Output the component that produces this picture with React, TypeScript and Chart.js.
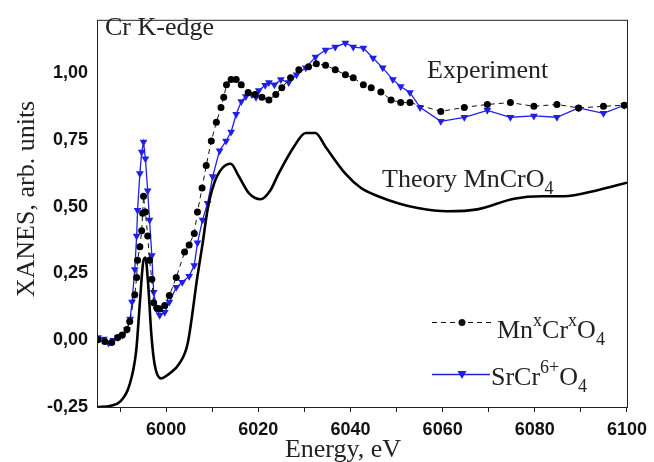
import React, { useEffect, useRef } from "react";
import { Chart, registerables } from "chart.js";

Chart.register(...registerables);

// ---- data ----
const theoryEnergy = [5985, 5988, 5990, 5992, 5993.5, 5994.3, 5995, 5995.5, 5996.1, 5996.8, 5997.5, 5998.9, 6000.7, 6002.9, 6004.7, 6006.8, 6007.9, 6009.0, 6010.4, 6012.2, 6014, 6015.8, 6018, 6020.5, 6022.6, 6024.4, 6027.7, 6030.3, 6032.4, 6034.6, 6038.9, 6042.3, 6046, 6050.3, 6054.6, 6061, 6067.5, 6075.5, 6081.6, 6086.3, 6093.4, 6100];
const theoryValue = [-0.25, -0.245, -0.23, -0.17, -0.04, 0.14, 0.29, 0.31, 0.21, 0.02, -0.09, -0.143, -0.125, -0.087, -0.01, 0.24, 0.36, 0.49, 0.587, 0.645, 0.661, 0.613, 0.55, 0.528, 0.561, 0.624, 0.724, 0.776, 0.776, 0.724, 0.624, 0.57, 0.539, 0.513, 0.495, 0.483, 0.49, 0.53, 0.539, 0.539, 0.561, 0.59];

const mnEnergy = [5985.2, 5986.7, 5988.2, 5989.5, 5990.5, 5991.5, 5992.1, 5993.2, 5993.6, 5993.8, 5994.3, 5994.7, 5994.9, 5995.1, 5995.5, 5996.0, 5996.4, 5996.9, 5997.3, 5998.0, 5998.6, 5999.7, 6000.7, 6002.2, 6004.0, 6005.0, 6006.1, 6006.8, 6007.8, 6008.7, 6009.8, 6010.9, 6011.9, 6012.5, 6013.1, 6014.1, 6015.2, 6016.3, 6017.8, 6019.3, 6020.8, 6022.3, 6023.8, 6025.1, 6027.0, 6028.8, 6030.9, 6032.6, 6034.6, 6036.7, 6038.9, 6040.6, 6042.8, 6044.5, 6046.6, 6048.8, 6050.9, 6052.9, 6059.6, 6064.7, 6069.7, 6074.7, 6079.8, 6084.8, 6089.5, 6094.9, 6099.4];
const mnValue = [0.002, -0.005, -0.008, 0.01, 0.02, 0.04, 0.07, 0.17, 0.235, 0.3, 0.35, 0.41, 0.476, 0.539, 0.48, 0.39, 0.3, 0.228, 0.14, 0.12, 0.117, 0.13, 0.168, 0.235, 0.33, 0.357, 0.4, 0.48, 0.57, 0.654, 0.746, 0.816, 0.872, 0.91, 0.957, 0.976, 0.976, 0.957, 0.928, 0.92, 0.91, 0.9, 0.92, 0.946, 0.983, 1.013, 1.024, 1.035, 1.03, 1.013, 0.994, 0.983, 0.957, 0.946, 0.93, 0.9, 0.89, 0.89, 0.857, 0.872, 0.883, 0.89, 0.876, 0.883, 0.87, 0.876, 0.88];

const srEnergy = [5985.2, 5986.5, 5987.5, 5988.5, 5989.5, 5990.5, 5991.5, 5992.2, 5992.6, 5993.2, 5993.6, 5993.8, 5994.3, 5994.7, 5995.1, 5995.5, 5996.0, 5996.4, 5996.9, 5997.3, 5997.9, 5998.6, 5999.7, 6000.7, 6002.2, 6003.5, 6005.0, 6006.1, 6006.8, 6007.9, 6009.0, 6010.1, 6011.6, 6013.0, 6014.1, 6015.2, 6016.3, 6017.3, 6018.6, 6019.5, 6020.1, 6021.5, 6022.3, 6023.5, 6024.9, 6026.6, 6028.3, 6030.3, 6032.4, 6034.6, 6036.7, 6038.9, 6040.6, 6042.8, 6044.9, 6047.0, 6049.2, 6050.9, 6052.9, 6055.1, 6059.6, 6064.7, 6069.7, 6074.7, 6079.8, 6084.8, 6089.5, 6094.9, 6099.4];
const srValue = [0.01, 0.005, -0.01, 0.0, 0.01, 0.02, 0.04, 0.08, 0.143, 0.265, 0.39, 0.487, 0.624, 0.705, 0.742, 0.68, 0.56, 0.45, 0.317, 0.18, 0.117, 0.094, 0.105, 0.143, 0.198, 0.217, 0.24, 0.28, 0.365, 0.45, 0.513, 0.613, 0.71, 0.746, 0.78, 0.846, 0.894, 0.913, 0.92, 0.91, 0.935, 0.955, 0.965, 0.957, 0.976, 0.965, 0.994, 1.02, 1.061, 1.087, 1.098, 1.113, 1.098, 1.094, 1.057, 1.02, 0.976, 0.95, 0.928, 0.872, 0.82, 0.835, 0.861, 0.835, 0.84, 0.835, 0.87, 0.85, 0.88];

const xTickValues = [5990, 6000, 6010, 6020, 6030, 6040, 6050, 6060, 6070, 6080, 6090, 6100];
const xLabelValues = [6000, 6020, 6040, 6060, 6080, 6100];
const yTickValues = [-0.25, 0, 0.25, 0.5, 0.75, 1.0];

const xTitle = "Energy, eV";
const yTitle = "XANES, arb. units";
const edgeLabel = "Cr K-edge";
const experimentLabel = "Experiment";
const theoryLabel = [{ t: "Theory MnCrO", k: "n" }, { t: "4", k: "sub" }];
const mnLegend = [{ t: "Mn", k: "n" }, { t: "x", k: "sup" }, { t: "Cr", k: "n" }, { t: "x", k: "sup" }, { t: "O", k: "n" }, { t: "4", k: "sub" }];
const srLegend = [{ t: "SrCr", k: "n" }, { t: "6+", k: "sup" }, { t: "O", k: "n" }, { t: "4", k: "sub" }];

const BLUE = "#1f1fe6";
const SERIF = "'Liberation Serif', 'Times New Roman', serif";

function zip(xs: number[], ys: number[]) {
  return xs.map((x, i) => ({ x, y: ys[i] }));
}

function drawRich(ctx: CanvasRenderingContext2D, x: number, y: number, parts: { t: string; k: string }[]) {
  let cx = x;
  for (const p of parts) {
    if (p.k === "n") {
      ctx.font = `26px ${SERIF}`;
      ctx.fillText(p.t, cx, y);
    } else {
      ctx.font = `18px ${SERIF}`;
      ctx.fillText(p.t, cx, p.k === "sup" ? y - 12 : y + 7);
    }
    cx += ctx.measureText(p.t).width;
  }
}

const decorPlugin = {
  id: "decor",
  afterDraw(chart: any) {
    const { ctx, chartArea } = chart;
    ctx.save();
    ctx.strokeStyle = "#222";
    ctx.lineWidth = 1;
    ctx.strokeRect(chartArea.left + 0.5, chartArea.top + 0.5, chartArea.right - chartArea.left, chartArea.bottom - chartArea.top);

    ctx.fillStyle = "#222";
    ctx.textAlign = "left";
    ctx.textBaseline = "alphabetic";
    ctx.font = `26px ${SERIF}`;
    ctx.fillText(edgeLabel, 105, 35);
    ctx.fillText(experimentLabel, 427, 78);
    drawRich(ctx, 382, 187, theoryLabel);

    // axis titles
    ctx.font = `26px ${SERIF}`;
    ctx.textAlign = "center";
    ctx.fillText(xTitle, 343, 457);
    ctx.save();
    ctx.translate(34, 199);
    ctx.rotate(-Math.PI / 2);
    ctx.fillText(yTitle, 0, 0);
    ctx.restore();

    // legend
    ctx.textAlign = "left";
    ctx.strokeStyle = "#111";
    ctx.lineWidth = 1;
    ctx.setLineDash([5, 4]);
    ctx.beginPath();
    ctx.moveTo(432, 322.5);
    ctx.lineTo(495, 322.5);
    ctx.stroke();
    ctx.setLineDash([]);
    ctx.fillStyle = "#111";
    ctx.beginPath();
    ctx.arc(462, 322.5, 3.5, 0, Math.PI * 2);
    ctx.fill();
    ctx.fillStyle = "#222";
    drawRich(ctx, 497, 338, mnLegend);

    ctx.strokeStyle = BLUE;
    ctx.lineWidth = 1.3;
    ctx.beginPath();
    ctx.moveTo(432, 374.5);
    ctx.lineTo(490, 374.5);
    ctx.stroke();
    ctx.fillStyle = BLUE;
    ctx.beginPath();
    ctx.moveTo(457.5, 371);
    ctx.lineTo(466.5, 371);
    ctx.lineTo(462, 379);
    ctx.closePath();
    ctx.fill();
    ctx.fillStyle = "#222";
    drawRich(ctx, 491, 385, srLegend);
    ctx.restore();
  },
};

export default function App() {
  const ref = useRef<HTMLCanvasElement>(null);
  useEffect(() => {
    const chart = new Chart(ref.current!, {
      type: "line",
      data: {
        datasets: [
          {
            label: "Theory MnCrO4",
            data: zip(theoryEnergy, theoryValue),
            borderColor: "#000",
            borderWidth: 2.6,
            pointRadius: 0,
            cubicInterpolationMode: "monotone",
            fill: false,
          },
          {
            label: "MnxCrxO4",
            data: zip(mnEnergy, mnValue),
            borderColor: "#111",
            borderWidth: 1,
            borderDash: [5, 4],
            pointRadius: 3.5,
            pointBackgroundColor: "#000",
            pointBorderColor: "#000",
            pointBorderWidth: 0,
            tension: 0,
            fill: false,
          },
          {
            label: "SrCr6+O4",
            data: zip(srEnergy, srValue),
            borderColor: BLUE,
            borderWidth: 1.3,
            pointStyle: "triangle",
            pointRotation: 180,
            pointRadius: 4.5,
            pointBackgroundColor: BLUE,
            pointBorderColor: BLUE,
            pointBorderWidth: 0,
            tension: 0,
            fill: false,
          },
        ],
      },
      options: {
        animation: false,
        responsive: false,
        layout: { padding: { top: 10, right: 25, left: 0, bottom: 0 } },
        plugins: { legend: { display: false }, tooltip: { enabled: false } },
        scales: {
          x: {
            type: "linear",
            min: 5985,
            max: 6100,
            afterBuildTicks: (s: any) => {
              s.ticks = xTickValues.map((v) => ({ value: v }));
            },
            afterFit: (s: any) => {
              s.height = 55;
            },
            ticks: {
              autoSkip: false,
              maxRotation: 0,
              padding: 7,
              color: "#111",
              font: { family: "'Liberation Sans', Arial, sans-serif", size: 18, weight: "bold" },
              callback: (v: any) => (xLabelValues.includes(Number(v)) ? String(v) : ""),
            },
            grid: { display: true, drawOnChartArea: false, drawTicks: true, tickLength: 5, color: "#222" },
            border: { display: false },
          },
          y: {
            type: "linear",
            min: -0.25,
            max: 1.2,
            afterBuildTicks: (s: any) => {
              s.ticks = yTickValues.map((v) => ({ value: v }));
            },
            afterFit: (s: any) => {
              s.width = 97;
            },
            ticks: {
              padding: 9,
              color: "#111",
              font: { family: "'Liberation Sans', Arial, sans-serif", size: 18, weight: "bold" },
              callback: (v: any) => Number(v).toFixed(2).replace(".", ","),
            },
            grid: { display: false, drawTicks: false },
            border: { display: false },
          },
        },
      },
      plugins: [decorPlugin],
    } as any);
    return () => chart.destroy();
  }, []);
  return (
    <div style={{ position: "fixed", left: 0, top: 0, width: 654, height: 462, background: "#fff" }}>
      <canvas ref={ref} width={654} height={462} />
    </div>
  );
}
